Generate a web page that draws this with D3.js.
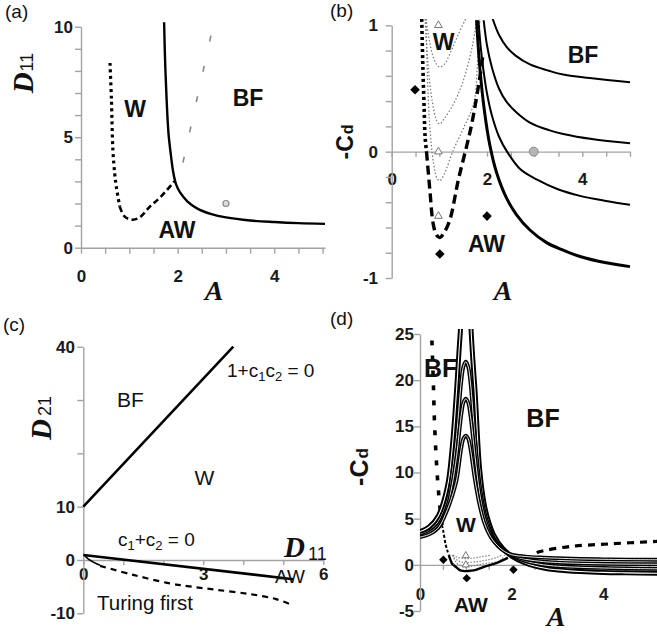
<!DOCTYPE html>
<html><head><meta charset="utf-8">
<script src="https://cdn.jsdelivr.net/npm/d3@7"></script>
<style>
body{margin:0;background:#fff}
svg{display:block}
.tick text{font-family:"Liberation Sans",Arial,sans-serif;font-weight:bold;font-size:17px;fill:#1a1a1a}
.domain,.tick line{stroke:#a3a3a3;stroke-width:1.4}
</style></head><body>
<svg id="c" width="657" height="634"></svg>
<script>
// ---------- Panel (a) data ----------
const aXTicks = [0,0.5,1,1.5,2,2.5,3,3.5,4,4.5,5];
const aXLabels = [0,2,4];
const aYTicks = [0,1,2,3,4,5,6,7,8,9,10];
const aYLabels = [0,5,10];
const aWaveDotted = [[0.6,8.36],[0.63,6.7],[0.66,4.43],[0.7,3.3],[0.73,2.77],[0.8,1.87]];
const aWaveDashed = [[0.8,1.87],[0.9,1.42],[1.05,1.27],[1.2,1.35],[1.43,1.87],[1.65,2.3],[1.93,3.0]];
const aTuring = [[1.72,10.2],[1.74,8.5],[1.77,6.8],[1.81,5.2],[1.86,4.2],[1.91,3.4],[1.97,2.85],[2.05,2.5],[2.2,2.1],[2.4,1.78],[2.7,1.52],[3.0,1.37],[3.5,1.23],[4.0,1.16],[4.5,1.11],[5.05,1.08]];
const aHopf = [[2.11,3.85],[2.73,10.0]];
const aPoint = [[3.0,2.0]];

// ---------- Panel (b) data ----------
const bXTicks = [0,0.5,1,1.5,2,2.5,3,3.5,4,4.5,5];
const bXLabels = [0,2,4];
const bYTicks = [-1,-0.8,-0.6,-0.4,-0.2,0,0.2,0.4,0.6,0.8,1];
const bYLabels = [-1,0,1];
const bAWdotted = [[0.63,1.05],[0.645,0.8],[0.66,0.59],[0.68,0.35],[0.70,0.12],[0.73,0.0]];
const bAWdashed = [[0.73,0.0],[0.8,-0.3],[0.87,-0.57],[0.94,-0.66],[1.01,-0.68],[1.1,-0.64],[1.22,-0.54],[1.4,-0.22],[1.57,0.04],[1.68,0.22],[1.85,0.59],[1.92,0.78]];
const bW1 = [[0.72,1.05],[0.8,0.86],[0.9,0.72],[1.0,0.67],[1.1,0.69],[1.25,0.8],[1.4,0.93],[1.55,1.05]];
const bW2 = [[0.7,1.05],[0.75,0.75],[0.85,0.4],[0.95,0.24],[1.01,0.22],[1.1,0.26],[1.3,0.38],[1.5,0.56],[1.7,0.85],[1.78,1.05]];
const bW3 = [[0.72,1.05],[0.75,0.6],[0.8,0.2],[0.88,-0.1],[0.95,-0.21],[1.01,-0.23],[1.1,-0.18],[1.29,0.01],[1.5,0.18],[1.72,0.38],[1.8,0.7],[1.85,1.05]];
const bBF1 = [[2.12,1.05],[2.25,0.925],[2.41,0.83],[2.6,0.76],[2.9,0.69],[3.3,0.64],[3.6,0.61],[4.2,0.58],[5.0,0.55]];
const bBF2 = [[1.93,1.04],[2.0,0.84],[2.1,0.67],[2.25,0.5],[2.4,0.4],[2.62,0.31],[2.9,0.23],[3.3,0.17],[3.6,0.14],[4.2,0.1],[5.0,0.067]];
const bBF3 = [[1.82,1.04],[1.87,0.82],[1.92,0.66],[2.0,0.46],[2.1,0.29],[2.25,0.12],[2.42,0.0],[2.7,-0.14],[3.04,-0.22],[3.5,-0.3],[3.95,-0.35],[4.5,-0.39],[5.0,-0.42]];
const bBF4 = [[1.78,1.04],[1.85,0.66],[1.95,0.31],[2.06,0.05],[2.2,-0.165],[2.4,-0.36],[2.62,-0.5],[2.9,-0.62],[3.25,-0.72],[3.6,-0.78],[3.95,-0.83],[4.5,-0.88],[5.0,-0.91]];
const bTriangles = [[0.98,1.0],[0.98,0],[0.98,-0.51]];
const bDiamonds = [[0.49,0.49],[2.0,-0.51],[1.01,-0.81]];
const bPoint = [[2.98,0]];

// ---------- Panel (c) data ----------
const cXTicks = [0,1,2,3,4,5,6];
const cXLabels = [0,3,6];
const cYTicks = [-10,0,10,20,30,40];
const cYLabels = [-10,0,10,40];
const cLineBF = [[0,10],[3.75,40]];
const cLineC = [[0,0.94],[5.25,-3.6]];
const cArc = [[0.03,0.9],[0.12,0.2],[0.25,-0.4],[0.42,-1.0]];
const cTuring = [[0.42,-1.1],[1.25,-2.8],[2.17,-4.4],[2.7,-5.0],[3.33,-5.6],[4.17,-6.4],[4.8,-7.3],[5.17,-8.3]];

// ---------- Panel (d) data ----------
const dXTicks = [0,0.5,1,1.5,2,2.5,3,3.5,4,4.5,5];
const dXLabels = [0,2,4];
const dYTicks = [-5,0,5,10,15,20,25];
const dYLabels = [-5,0,5,10,15,20,25];
const dPeak14 = [[0,3.0],[0.2,3.3],[0.4,4.0],[0.6,6.0],[0.7,7.4],[0.8,9.2],[0.9,12.6],[0.95,13.7],[1.0,14.0],[1.05,13.7],[1.1,12.6],[1.2,9.2],[1.3,6.5],[1.4,4.6],[1.5,3.4],[1.6,2.6],[1.8,1.6],[2.0,1.1],[2.3,0.9],[2.7,0.78],[3.0,0.72],[3.5,0.64],[4.0,0.6],[4.5,0.57],[5.2,0.55]];
const dPeak18 = [[0,3.1],[0.2,3.5],[0.4,4.3],[0.6,6.4],[0.7,8.6],[0.8,11.8],[0.9,16.2],[0.95,17.6],[1.0,18.0],[1.05,17.6],[1.1,16.2],[1.2,11.8],[1.3,7.8],[1.4,5.3],[1.5,3.8],[1.6,2.8],[1.8,1.65],[2.0,1.05],[2.3,0.6],[2.7,0.35],[3.0,0.25],[3.5,0.16],[4.0,0.11],[4.5,0.08],[5.2,0.06]];
const dPeak22 = [[0,3.3],[0.2,3.7],[0.4,4.7],[0.6,7.0],[0.7,9.8],[0.8,14.0],[0.9,19.8],[0.95,21.5],[1.0,22.0],[1.05,21.5],[1.1,19.8],[1.2,13.8],[1.3,8.8],[1.4,5.9],[1.5,4.2],[1.6,3.0],[1.8,1.7],[2.0,1.0],[2.3,0.4],[2.7,0.0],[3.0,-0.15],[3.5,-0.27],[4.0,-0.34],[4.5,-0.39],[5.2,-0.43]];
const dPeakHigh = [[0,3.6],[0.2,4.1],[0.4,5.3],[0.6,8.5],[0.7,12.5],[0.8,19.0],[0.85,23.0],[0.9,27.0],[1.0,45.0],[1.1,27.0],[1.15,22.5],[1.2,19.0],[1.3,10.5],[1.4,6.6],[1.5,4.6],[1.6,3.3],[1.8,1.8],[2.0,0.95],[2.3,0.2],[2.7,-0.35],[3.0,-0.55],[3.5,-0.72],[4.0,-0.82],[4.5,-0.87],[5.2,-0.92]];
const dBFleft = [[0.26,24.3],[0.29,20],[0.32,15],[0.38,9.5],[0.44,6],[0.48,4.3]];
const dBFleftLow = [[0.48,4.3],[0.51,3.6],[0.56,2.2],[0.6,1.5],[0.63,1.05]];
const dRight = [[2.55,1.3],[2.62,1.44],[3.27,1.98],[4.15,2.27],[5.2,2.55]];
const dDiamonds = [[0.51,0.54],[1.02,-1.44],[2.04,-0.54]];
const dTriangles = [[1.0,1.0],[1.0,0.0]];

// ---------- drawing ----------
const SANS = '"Liberation Sans", Arial, sans-serif';
const SERIF = '"Liberation Serif", "Times New Roman", serif';
const svg = d3.select("#c");
svg.append("rect").attr("width",657).attr("height",634).attr("fill","#fff");

function gen(sx, sy){ return d3.line().x(d=>sx(d[0])).y(d=>sy(d[1])).curve(d3.curveCatmullRom.alpha(0.5)); }
function curve(g, data, sx, sy, st){
  return g.append("path").attr("d", gen(sx,sy)(data)).attr("fill","none")
    .attr("stroke", st.c || "#000").attr("stroke-width", st.w || 2)
    .attr("stroke-dasharray", st.dash || null).attr("stroke-linecap", st.cap || "butt")
    .attr("stroke-linejoin","round");
}
function axes(g, sx, sy, o){
  const xa = g.append("g").attr("transform",`translate(0,${sy(o.xAt)})`)
    .call(d3.axisBottom(sx).tickValues(o.xTicks).tickSize(o.xTick).tickSizeOuter(0)
      .tickFormat(d=>o.xLabels.includes(d)?String(d):""));
  xa.selectAll("text").attr("y", o.xOff).attr("dy", 0);
  const ya = g.append("g").attr("transform",`translate(${sx(0)},0)`)
    .call(d3.axisLeft(sy).tickValues(o.yTicks).tickSize(6).tickSizeOuter(0)
      .tickFormat(d=>o.yLabels.includes(d)?String(d):""));
  ya.selectAll("text").attr("x", -o.yOff);
}
function txt(g, x, y, s, o={}){
  return g.append("text").attr("x",x).attr("y",y).text(s)
    .attr("font-family", o.f || SANS).attr("font-size", o.s || 22)
    .attr("font-weight", o.b===false ? "normal" : "bold")
    .attr("font-style", o.i ? "italic" : "normal")
    .attr("text-anchor", o.a || "middle").attr("fill", o.c || "#111");
}
function diamonds(g, data, sx, sy, size){
  g.selectAll(null).data(data).enter().append("path")
    .attr("d", d3.symbol(d3.symbolSquare, size)())
    .attr("transform", d=>`translate(${sx(d[0])},${sy(d[1])}) rotate(45)`).attr("fill","#000");
}
function triangles(g, data, sx, sy, size){
  g.selectAll(null).data(data).enter().append("path")
    .attr("d", d3.symbol(d3.symbolTriangle, size)())
    .attr("transform", d=>`translate(${sx(d[0])},${sy(d[1])})`)
    .attr("fill","#fff").attr("stroke","#777").attr("stroke-width",1);
}
function subTitleRot(g, x, y, main, sub, o){
  const t = g.append("text").attr("transform",`translate(${x},${y}) rotate(-90)`)
    .attr("text-anchor","middle").attr("fill","#111");
  t.append("tspan").text(main).attr("font-family",o.mf).attr("font-size",o.ms)
    .attr("font-weight","bold").attr("font-style",o.mi?"italic":"normal");
  t.append("tspan").text(sub).attr("font-family",o.sf).attr("font-size",o.ss)
    .attr("font-weight",o.sb?"bold":"normal").attr("dx",o.dx||0).attr("dy",o.sdy||0);
  return t;
}

// ===== (a) =====
{
  const g = svg.append("g");
  const sx = d3.scaleLinear().domain([0,5.05]).range([81,325]);
  const sy = d3.scaleLinear().domain([0,10]).range([247.7,26.7]);
  axes(g, sx, sy, {xAt:0, xTicks:aXTicks, xLabels:aXLabels, xTick:6, xOff:34,
                   yTicks:aYTicks, yLabels:aYLabels, yOff:8});
  curve(g, aHopf, sx, sy, {c:"#8a8a8a", w:1.6, dash:"6,25"});
  curve(g, aWaveDotted, sx, sy, {w:3.2, dash:"3,3.5"});
  curve(g, aWaveDashed, sx, sy, {w:2.6, dash:"6,3.5"});
  curve(g, aTuring, sx, sy, {w:2.4});
  g.selectAll(null).data(aPoint).enter().append("circle")
    .attr("cx",d=>sx(d[0])).attr("cy",d=>sy(d[1])).attr("r",3)
    .attr("fill","#ddd").attr("stroke","#888").attr("stroke-width",1.2);
  txt(g, 5, 18, "(a)", {s:19, b:false, a:"start"});
  txt(g, 135, 117, "W", {s:23});
  txt(g, 248, 106, "BF", {s:23});
  txt(g, 177, 238, "AW", {s:23});
  txt(g, 214, 300, "A", {f:SERIF, s:28, i:true});
  subTitleRot(g, 33, 73, "D", "11", {mf:SERIF, ms:29, mi:true, sf:SANS, ss:18, dx:1});
}

// ===== (b) =====
{
  const g = svg.append("g");
  const sx = d3.scaleLinear().domain([0,5]).range([391.7,630]);
  const sy = d3.scaleLinear().domain([-1,1]).range([278,25.3]);
  axes(g, sx, sy, {xAt:0, xTicks:bXTicks, xLabels:bXLabels, xTick:5, xOff:33,
                   yTicks:bYTicks, yLabels:bYLabels, yOff:13.7});
  svg.append("clipPath").attr("id","clipB").append("rect")
    .attr("x",385).attr("y",sy(1.05)).attr("width",260).attr("height",270);
  const p = g.append("g").attr("clip-path","url(#clipB)");
  [bW1,bW2,bW3].forEach(w=>curve(p, w, sx, sy, {c:"#777", w:1.2, dash:"1.5,2"}));
  curve(p, bAWdotted, sx, sy, {w:3.6, dash:"3,3"});
  curve(p, bAWdashed, sx, sy, {w:3.4, dash:"9,5"});
  curve(p, bBF1, sx, sy, {w:2});
  curve(p, bBF2, sx, sy, {w:2});
  curve(p, bBF3, sx, sy, {w:2});
  curve(p, bBF4, sx, sy, {w:3});
  g.selectAll(null).data(bPoint).enter().append("circle")
    .attr("cx",d=>sx(d[0])).attr("cy",d=>sy(d[1])).attr("r",4.5)
    .attr("fill","#b5b5b5").attr("stroke","#8a8a8a").attr("stroke-width",1);
  triangles(g, bTriangles, sx, sy, 26);
  diamonds(g, bDiamonds, sx, sy, 46);
  txt(g, 330, 17, "(b)", {s:19, b:false, a:"start"});
  txt(g, 443.5, 50, "W", {s:23});
  txt(g, 583, 63, "BF", {s:23});
  txt(g, 486.5, 252, "AW", {s:23});
  txt(g, 503, 300, "A", {f:SERIF, s:28, i:true});
  subTitleRot(g, 353, 142, "-C", "d", {mf:SANS, ms:23, sf:SANS, ss:16, sb:true, dx:1, sdy:0});
}

// ===== (c) =====
{
  const g = svg.append("g");
  const sx = d3.scaleLinear().domain([0,6]).range([83.3,323.3]);
  const sy = d3.scaleLinear().domain([-10,40]).range([613.3,346.7]);
  axes(g, sx, sy, {xAt:0, xTicks:cXTicks, xLabels:cXLabels, xTick:5, xOff:20,
                   yTicks:cYTicks, yLabels:cYLabels, yOff:8.3});
  curve(g, cLineBF, sx, sy, {w:2.6});
  curve(g, cLineC, sx, sy, {w:2.6});
  curve(g, cArc, sx, sy, {w:1.6});
  curve(g, cTuring, sx, sy, {w:2.2, dash:"6,5"});
  txt(g, 3, 331, "(c)", {s:19, b:false, a:"start"});
  txt(g, 130.5, 407, "BF", {s:21, b:false});
  txt(g, 204.5, 485, "W", {s:21, b:false});
  const t1 = g.append("text").attr("x",227).attr("y",377).attr("font-family",SANS)
    .attr("font-size",19).attr("fill","#111");
  t1.append("tspan").text("1+c");
  t1.append("tspan").text("1").attr("font-size",13).attr("dy",4);
  t1.append("tspan").text("c").attr("dy",-4);
  t1.append("tspan").text("2").attr("font-size",13).attr("dy",4);
  t1.append("tspan").text(" = 0").attr("dy",-4);
  const t2 = g.append("text").attr("x",118).attr("y",546).attr("font-family",SANS)
    .attr("font-size",19).attr("fill","#111");
  t2.append("tspan").text("c");
  t2.append("tspan").text("1").attr("font-size",13).attr("dy",4);
  t2.append("tspan").text("+c").attr("dy",-4);
  t2.append("tspan").text("2").attr("font-size",13).attr("dy",4);
  t2.append("tspan").text(" = 0").attr("dy",-4);
  txt(g, 290, 583, "AW", {s:19, b:false});
  txt(g, 97, 610, "Turing first", {s:20.5, b:false, a:"start"});
  const t3 = g.append("text").attr("x",284).attr("y",557).attr("fill","#111");
  t3.append("tspan").text("D").attr("font-family",SERIF).attr("font-size",29)
    .attr("font-weight","bold").attr("font-style","italic");
  t3.append("tspan").text("11").attr("font-family",SANS).attr("font-size",18)
    .attr("dx",3).attr("dy",3);
  subTitleRot(g, 51, 418, "D", "21", {mf:SERIF, ms:29, mi:true, sf:SANS, ss:18, dx:3});
}

// ===== (d) =====
{
  const g = svg.append("g");
  const sx = d3.scaleLinear().domain([0,5.17]).range([420,656.8]);
  const sy = d3.scaleLinear().domain([-5,25]).range([611,334]);
  axes(g, sx, sy, {xAt:0, xTicks:dXTicks, xLabels:dXLabels, xTick:5, xOff:35,
                   yTicks:dYTicks, yLabels:dYLabels, yOff:6});
  svg.append("clipPath").attr("id","clipD").append("rect")
    .attr("x",420).attr("y",329).attr("width",237).attr("height",290);
  const p = g.append("g").attr("clip-path","url(#clipD)");
  [bW1,bW2,bW3].forEach(w=>curve(p, w, sx, sy, {c:"#888", w:1.3, dash:"1.5,1.5"}));
  curve(p, bAWdotted, sx, sy, {w:2.4});
  curve(p, bAWdashed, sx, sy, {w:2.4});
  curve(p, dBFleft, sx, sy, {w:3.6, dash:"5,10"});
  curve(p, dBFleftLow, sx, sy, {w:2, dash:"3,2"});
  curve(p, dRight, sx, sy, {w:3.2, dash:"7,6"});
  [[dPeakHigh,5,1.1],[dPeak22,3.8,0.9],[dPeak18,3.8,0.9],[dPeak14,3.8,0.9]].forEach(([d,bw,ww])=>{
    curve(p, d, sx, sy, {w:bw});
    curve(p, d, sx, sy, {w:ww, c:"#fff"});
  });
  triangles(g, dTriangles, sx, sy, 22);
  diamonds(g, dDiamonds, sx, sy, 36);
  txt(g, 330, 325, "(d)", {s:19, b:false, a:"start"});
  txt(g, 424, 377, "BF", {s:25, a:"start"});
  txt(g, 543, 427, "BF", {s:25});
  txt(g, 466, 532, "W", {s:21});
  txt(g, 471, 612, "AW", {s:21});
  txt(g, 556, 626, "A", {f:SERIF, s:28, i:true});
  subTitleRot(g, 368, 467, "-C", "d", {mf:SANS, ms:25, sf:SANS, ss:17, sb:true, dx:1});
}
</script></body></html>
